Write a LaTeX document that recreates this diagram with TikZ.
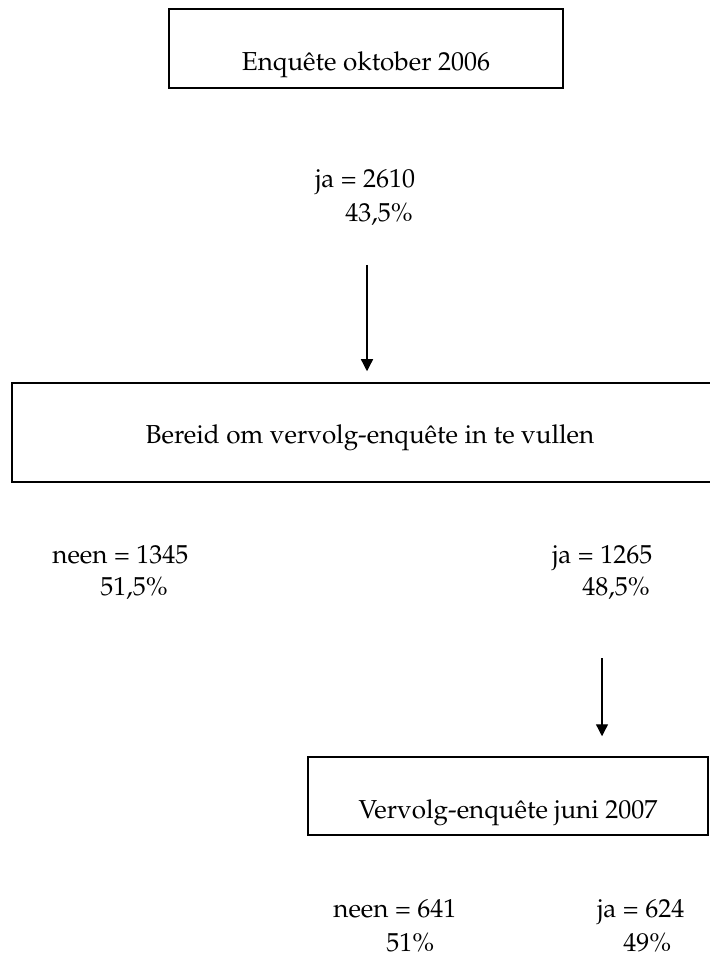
\documentclass[tikz,border=0pt]{standalone}
\usepackage[T1]{fontenc}
\usepackage{mathpazo}
\usetikzlibrary{arrows.meta}

\begin{document}
\begin{tikzpicture}[x=0.5pt,y=-0.5pt,
	font=\fontsize{13}{16}\selectfont,
	box/.style={draw, line width=0.75pt, inner sep=0pt, anchor=base},
	lbl/.style={inner sep=0pt, anchor=base west},
	arr/.style={line width=0.65pt, -{Triangle[length=6pt,width=6pt]}}]
	
	\useasboundingbox (0,0) rectangle (709,956);
	
	\node[box, minimum width=197pt, text height=31pt, text depth=8.5pt] (okt) at (366,71) {Enqu\^ete oktober 2006};
	
	\node[lbl] (ja1) at (315,188) {ja = 2610};
	\node[lbl] (ja1p) at (345,222) {43,5\%};
	
	\coordinate (a1) at (367,265);
	
	\node[box, minimum width=358pt, text height=30pt, text depth=19.5pt] (bereid) at (370,443) {Bereid om vervolg-enqu\^ete in te vullen};
	\draw[arr, shorten >=5.5pt] (a1) -- (a1 |- bereid.north);
	
	\node[lbl] (neen2) at (52,563) {neen = 1345};
	\node[lbl] (neen2p) at (100,595) {51,5\%};
	\node[lbl] (ja2) at (552,563) {ja = 1265};
	\node[lbl] (ja2p) at (582,595) {48,5\%};
	
	\coordinate (a2) at (602,658);
	
	\node[box, minimum width=200pt, text height=30.5pt, text depth=8.5pt] (juni) at (508,818) {Vervolg-enqu\^ete juni 2007};
	\draw[arr, shorten >=10pt] (a2) -- (a2 |- juni.north);
	
	\node[lbl] (neen3) at (333,917) {neen = 641};
	\node[lbl] (neen3p) at (386,951) {51\%};
	\node[lbl] (ja3) at (597,917) {ja = 624};
	\node[lbl] (ja3p) at (623,951) {49\%};
	
\end{tikzpicture}
\end{document}
